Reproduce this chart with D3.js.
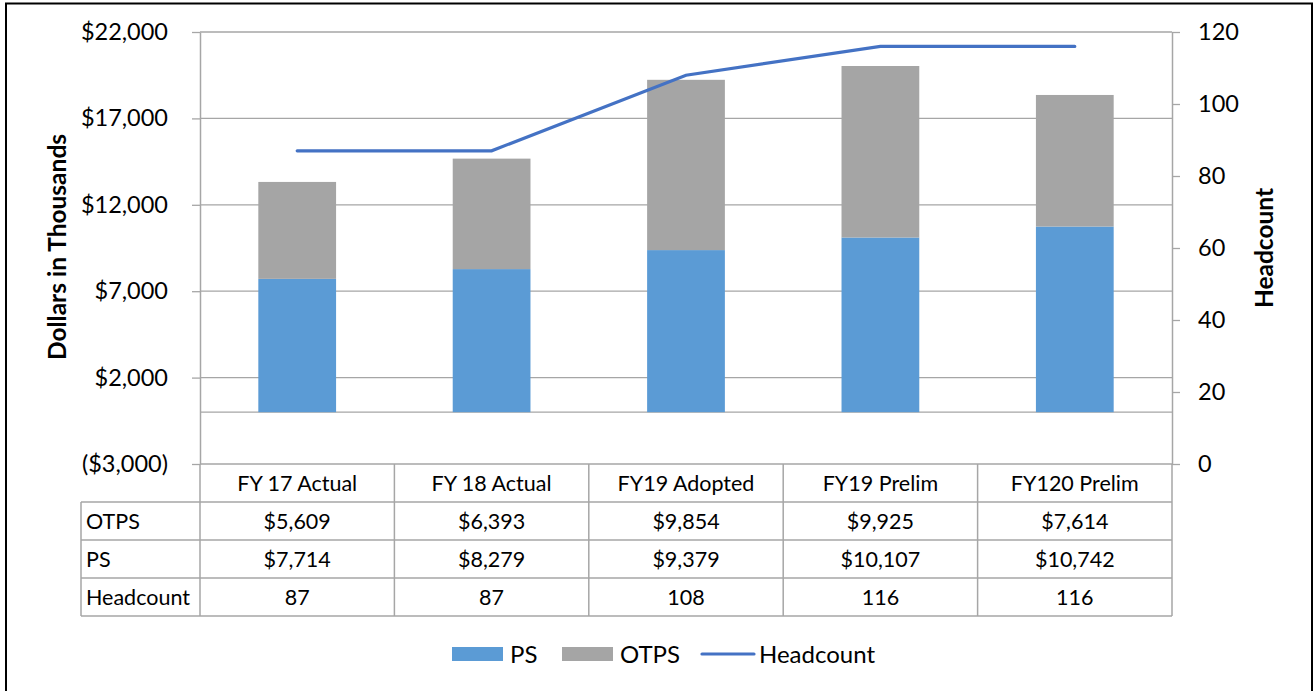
<!DOCTYPE html>
<head>
  <meta charset="utf-8">
  <title>Budget and Headcount</title>
  <style>
    body { margin: 0; background: #fff; }
    text { font-family: Lato, "Open Sans", sans-serif; fill: #000; }
  </style>
</head>
<body>
  <script src="https://d3js.org/d3.v7.min.js"></script>
  <script>
  const categories = ["FY 17 Actual", "FY 18 Actual", "FY19 Adopted", "FY19 Prelim", "FY120 Prelim"];
  const ps = [7714, 8279, 9379, 10107, 10742];
  const otps = [5609, 6393, 9854, 9925, 7614];
  const headcount = [87, 87, 108, 116, 116];
  const dollarTicks = [-3000, 2000, 7000, 12000, 17000, 22000];
  const headTicks = [0, 20, 40, 60, 80, 100, 120];
  const tableRows = ["OTPS", "PS", "Headcount"];

  const W = 1315, H = 691;
  const grid = "#a6a6a6";
  const plotL = 200, plotR = 1172, plotT = 32, plotB = 464;

  const svg = d3.select("body").append("svg")
    .attr("width", W)
    .attr("height", H);

  // outer frame
  svg.append("rect")
    .attr("x", 6).attr("y", 3.5)
    .attr("width", 1306).attr("height", 720)
    .attr("fill", "none").attr("stroke", "#000").attr("stroke-width", 2);

  const x = d3.scaleBand().domain(categories).range([plotL, plotR])
    .paddingInner(0.6).paddingOuter(0.3);
  const xCol = d3.scaleBand().domain(categories).range([plotL, plotR]);
  const yL = d3.scaleLinear().domain([-3000, 22000]).range([plotB, plotT]);
  const yR = d3.scaleLinear().domain([0, 120]).range([plotB, plotT]);

  const money = v => v < 0 ? "($" + d3.format(",")(-v) + ")" : "$" + d3.format(",")(v);

  // gridlines
  svg.append("g").selectAll("line")
    .data(dollarTicks.filter(d => d > -3000).concat([0]))
    .join("line")
    .attr("x1", plotL).attr("x2", plotR)
    .attr("y1", d => yL(d)).attr("y2", d => yL(d))
    .attr("stroke", grid).attr("stroke-width", 1.3);

  // bars
  const stack = categories.map((c, i) => ({ c, ps: ps[i], otps: otps[i] }));
  svg.append("g").selectAll("rect")
    .data(stack).join("rect")
    .attr("x", d => x(d.c)).attr("width", x.bandwidth())
    .attr("y", d => yL(d.ps)).attr("height", d => yL(0) - yL(d.ps))
    .attr("fill", "#5b9bd5");
  svg.append("g").selectAll("rect")
    .data(stack).join("rect")
    .attr("x", d => x(d.c)).attr("width", x.bandwidth())
    .attr("y", d => yL(d.ps + d.otps)).attr("height", d => yL(d.ps) - yL(d.ps + d.otps))
    .attr("fill", "#a5a5a5");

  // left axis
  const axL = svg.append("g").attr("transform", `translate(${plotL},0)`)
    .call(d3.axisLeft(yL).tickValues(dollarTicks).tickFormat(money).tickSizeInner(8).tickSizeOuter(0).tickPadding(24));
  axL.select(".domain").attr("stroke", grid).attr("stroke-width", 1.5);
  axL.selectAll(".tick line").attr("stroke", grid).attr("stroke-width", 1.3);
  axL.selectAll("text").style("font-size", "23.5px").attr("font-family", null);

  // right axis
  const axR = svg.append("g").attr("transform", `translate(${plotR},0)`)
    .call(d3.axisRight(yR).tickValues(headTicks).tickSizeInner(8).tickSizeOuter(0).tickPadding(18));
  axR.select(".domain").attr("stroke", grid).attr("stroke-width", 1.5);
  axR.selectAll(".tick line").attr("stroke", grid).attr("stroke-width", 1.3);
  axR.selectAll("text").style("font-size", "23.5px").attr("font-family", null);

  // headcount line
  const line = d3.line()
    .x((d, i) => x(categories[i]) + x.bandwidth() / 2)
    .y(d => yR(d));
  svg.append("path").datum(headcount)
    .attr("d", line)
    .attr("fill", "none").attr("stroke", "#4472c4").attr("stroke-width", 3.2)
    .attr("stroke-linecap", "round");

  // axis titles
  svg.append("text")
    .attr("transform", `translate(66,${(plotT + plotB) / 2 - 1}) rotate(-90)`)
    .attr("text-anchor", "middle")
    .style("font-size", "24.5px").style("font-weight", "bold")
    .text("Dollars in Thousands");
  svg.append("text")
    .attr("transform", `translate(1273,${(plotT + plotB) / 2}) rotate(-90)`)
    .attr("text-anchor", "middle")
    .style("font-size", "24.5px").style("font-weight", "bold")
    .text("Headcount");

  // data table
  const rowH = 38;
  const tbl = svg.append("g");
  const tableValues = [otps.map(money), ps.map(money), headcount.map(String)];
  const rowY = i => plotB + rowH * (i + 1);

  // header row
  tbl.selectAll(".hdr").data(categories).join("text")
    .attr("class", "hdr")
    .attr("x", d => xCol(d) + xCol.bandwidth() / 2)
    .attr("y", plotB + rowH / 2 + 8)
    .attr("text-anchor", "middle")
    .style("font-size", "21.5px")
    .text(d => d);

  tableRows.forEach((r, i) => {
    tbl.append("text")
      .attr("x", 86).attr("y", rowY(i) + rowH / 2 + 8)
      .style("font-size", "21.5px").text(r);
    tbl.selectAll(".v" + i).data(tableValues[i]).join("text")
      .attr("class", "v" + i)
      .attr("x", (d, j) => xCol(categories[j]) + xCol.bandwidth() / 2)
      .attr("y", rowY(i) + rowH / 2 + 8)
      .attr("text-anchor", "middle")
      .style("font-size", "21.5px")
      .text(d => d);
  });

  const tableLines = tbl.append("g").attr("stroke", grid).attr("stroke-width", 1.5);
  // horizontal lines
  tableLines.append("line").attr("x1", plotL).attr("x2", plotR).attr("y1", plotB).attr("y2", plotB);
  [0, 1, 2, 3].forEach(i => {
    tableLines.append("line").attr("x1", 81).attr("x2", plotR)
      .attr("y1", rowY(i)).attr("y2", rowY(i));
  });
  // vertical lines
  categories.concat(["end"]).forEach((c, j) => {
    const xx = j < categories.length ? xCol(c) : plotR;
    tableLines.append("line").attr("x1", xx).attr("x2", xx)
      .attr("y1", plotB).attr("y2", rowY(3));
  });
  tableLines.append("line").attr("x1", 81).attr("x2", 81)
    .attr("y1", rowY(0)).attr("y2", rowY(3));

  // legend
  const legend = svg.append("g").attr("transform", "translate(0,654)");
  const lg = [
    { name: "PS", type: "rect", color: "#5b9bd5", x: 452 },
    { name: "OTPS", type: "rect", color: "#a5a5a5", x: 562 },
    { name: "Headcount", type: "line", color: "#4472c4", x: 701 }
  ];
  lg.forEach(d => {
    if (d.type === "rect") {
      legend.append("rect").attr("x", d.x).attr("y", -7).attr("width", 51).attr("height", 14).attr("fill", d.color);
    } else {
      legend.append("line").attr("x1", d.x + 1).attr("x2", d.x + 53).attr("y1", 0).attr("y2", 0)
        .attr("stroke", d.color).attr("stroke-width", 3.2).attr("stroke-linecap", "round");
    }
    legend.append("text").attr("x", d.x + 58).attr("y", 9)
      .style("font-size", "24px").text(d.name);
  });
  </script>
</body>
</html>
